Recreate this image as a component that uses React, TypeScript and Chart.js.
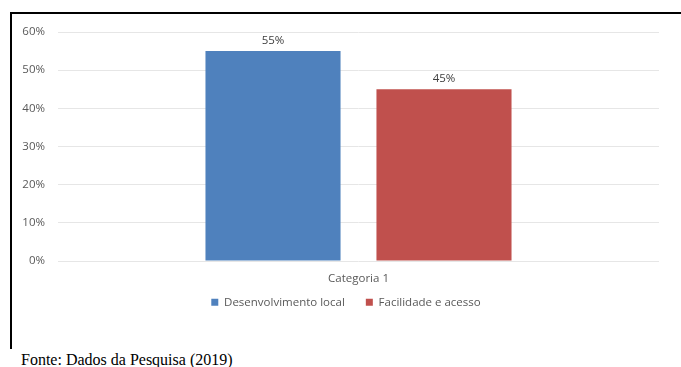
import React, { useEffect, useRef } from "react";
import { Chart, registerables } from "chart.js";

Chart.register(...registerables);

const categories: string[] = ["Categoria 1"];
const seriesNames: string[] = ["Desenvolvimento local", "Facilidade e acesso"];
const desenvolvimentoLocal: number[] = [55];
const facilidadeAcesso: number[] = [45];
const seriesColors: string[] = ["#4F81BD", "#C0504D"];
const yMin = 0;
const yMax = 60;
const yStep = 10;
const sourceNote = "Fonte: Dados da Pesquisa (2019)";

const FONT = '"Open Sans", "Noto Sans", sans-serif';
const FONT_SIZE = 11.5;

const dataLabelPlugin = {
  id: "dataLabels",
  afterDatasetsDraw(chart: any) {
    const ctx = chart.ctx;
    ctx.save();
    ctx.font = `${FONT_SIZE}px ${FONT}`;
    ctx.fillStyle = "#404040";
    ctx.textAlign = "center";
    ctx.textBaseline = "middle";
    chart.data.datasets.forEach((ds: any, i: number) => {
      const meta = chart.getDatasetMeta(i);
      meta.data.forEach((el: any, j: number) => {
        ctx.fillText(`${ds.data[j]}%`, el.x, el.y - 10.5);
      });
    });
    ctx.restore();
  },
};

// Nudges the legend box after layout (centre it under the plot, pull it up under the axis label)
const legendShiftPlugin = {
  id: "legendShift",
  afterLayout(chart: any) {
    const lg = chart.legend;
    if (!lg) return;
    const dx = 346 - (lg.left + lg.right) / 2;
    const dy = -12;
    lg.left += dx;
    lg.right += dx;
    lg.top += dy;
    lg.bottom += dy;
  },
};

export default function App() {
  const canvasRef = useRef<HTMLCanvasElement>(null);

  useEffect(() => {
    const canvas = canvasRef.current;
    if (!canvas) return;
    const chart = new Chart(canvas, {
      type: "bar",
      data: {
        labels: categories,
        datasets: [
          {
            label: seriesNames[0],
            data: desenvolvimentoLocal,
            backgroundColor: seriesColors[0],
            borderWidth: 0,
            categoryPercentage: 0.569,
            barPercentage: 0.79,
          },
          {
            label: seriesNames[1],
            data: facilidadeAcesso,
            backgroundColor: seriesColors[1],
            borderWidth: 0,
            categoryPercentage: 0.569,
            barPercentage: 0.79,
          },
        ],
      },
      options: {
        animation: false,
        responsive: false,
        devicePixelRatio: 1,
        layout: { padding: { top: 32, left: 0, right: 22, bottom: 0 } },
        plugins: {
          tooltip: { enabled: false },
          title: { display: false },
          legend: {
            display: true,
            position: "bottom",
            labels: {
              boxWidth: 7,
              boxHeight: 7,
              padding: 21,
              color: "#595959",
              font: { family: FONT, size: FONT_SIZE },
            },
          },
        },
        scales: {
          x: {
            grid: { display: false, drawTicks: false },
            border: { display: false },
            ticks: {
              color: "#595959",
              padding: 10.5,
              font: { family: FONT, size: FONT_SIZE },
            },
            afterFit(scale: any) {
              scale.height = 26.5;
            },
          },
          y: {
            min: yMin,
            max: yMax,
            grid: { color: "#e6e6e6", lineWidth: 1, drawTicks: false },
            border: { display: false },
            ticks: {
              stepSize: yStep,
              padding: 13,
              color: "#595959",
              font: { family: FONT, size: FONT_SIZE },
              callback: (v: any) => `${v}%`,
            },
            afterFit(scale: any) {
              scale.width = 58;
            },
          },
        },
      },
      plugins: [dataLabelPlugin, legendShiftPlugin],
    });
    return () => chart.destroy();
  }, []);

  return (
    <div
      style={{
        position: "absolute",
        left: 0,
        top: 0,
        width: 681,
        height: 367,
        background: "#ffffff",
        overflow: "hidden",
      }}
    >
      <canvas
        ref={canvasRef}
        width={681}
        height={330}
        style={{ position: "absolute", left: 0, top: 0, width: 681, height: 330 }}
      />
      <div style={{ position: "absolute", left: 10, top: 12, width: 671, height: 2, background: "#000" }} />
      <div style={{ position: "absolute", left: 10, top: 12, width: 2, height: 337, background: "#000" }} />
      <div
        style={{
          position: "absolute",
          left: 21,
          top: 352,
          font: '16px "Liberation Serif", "Times New Roman", serif',
          lineHeight: "16px",
          color: "#000",
          whiteSpace: "nowrap",
        }}
      >
        {sourceNote}
      </div>
    </div>
  );
}
